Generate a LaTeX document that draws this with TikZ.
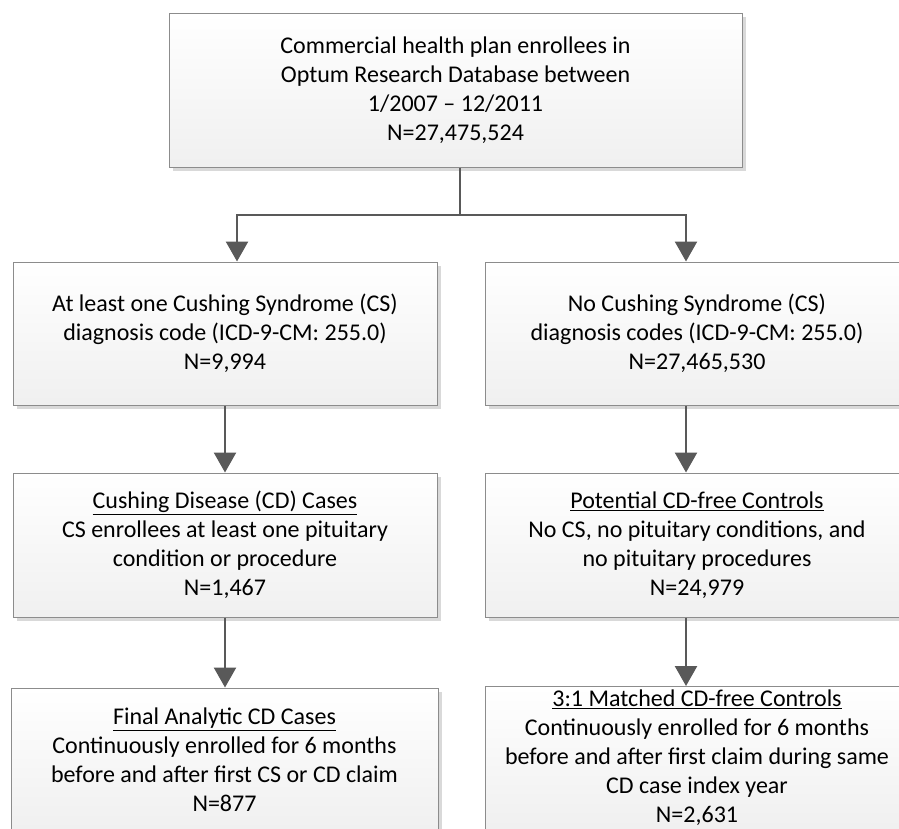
\documentclass[tikz,border=0pt]{standalone}
\usepackage{fontspec}
\setmainfont{Carlito}
\usetikzlibrary{arrows.meta,shadows}

\begin{document}
\begin{tikzpicture}[x=1pt, y=-1pt,
  box/.style={draw=black!45, line width=1pt, top color=white, bottom color=black!6,
    drop shadow={shadow xshift=4pt, shadow yshift=-4pt, fill=black!15, opacity=1},
    minimum width=424pt, minimum height=143pt, inner sep=0pt, align=center,
    font=\fontsize{24}{29}\selectfont},
  link/.style={draw=black!65, line width=2.5pt, -{Triangle[width=22pt,length=20pt]}}]
\useasboundingbox (0,0) rectangle (899,828);
\clip (0,0) rectangle (899,828);

\node [box, minimum width=573pt, minimum height=154pt] (enrol) at (455.5,90) {Commercial health plan enrollees in\\Optum Research Database between\\1/2007 – 12/2011\\N=27,475,524};

\node [box] (cs) at (225,333.5) {At least one Cushing Syndrome (CS)\\diagnosis code (ICD-9-CM: 255.0)\\N=9,994};
\node [box] (nocs) at (697,333.5) {No Cushing Syndrome (CS)\\diagnosis codes (ICD-9-CM: 255.0)\\N=27,465,530};

\node [box, minimum height=144pt] (cd) at (225,545) {\underline{Cushing Disease (CD) Cases}\\CS enrollees at least one pituitary\\condition or procedure\\N=1,467};
\node [box, minimum height=144pt] (ctrl) at (697,545) {\underline{Potential CD-free Controls}\\No CS, no pituitary conditions, and\\no pituitary procedures\\N=24,979};

\node [box, minimum width=427pt, minimum height=144pt] (cdfinal) at (224.5,760) {\underline{Final Analytic CD Cases}\\Continuously enrolled for 6 months\\before and after first CS or CD claim\\N=877};
\node [box] (ctrlfinal) at (697,758) {\underline{3:1 Matched CD-free Controls}\\Continuously enrolled for 6 months\\before and after first claim during same\\CD case index year\\N=2,631};

\coordinate (split) at (460,215);
\draw [link] (enrol.south -| split) -- (split) -| ([xshift=12pt]cs.north);
\draw [link] (split) -| ([xshift=-11pt]nocs.north);

\draw [link] (cs) -- (cd);
\draw [link] ([xshift=-11pt]nocs.south) -- ([xshift=-11pt]ctrl.north);

\draw [link] (cd) -- (cdfinal.north -| cd);
\draw [link] ([xshift=-11pt]ctrl.south) -- ([xshift=-11pt]ctrl.south |- ctrlfinal.north);
\end{tikzpicture}
\end{document}
